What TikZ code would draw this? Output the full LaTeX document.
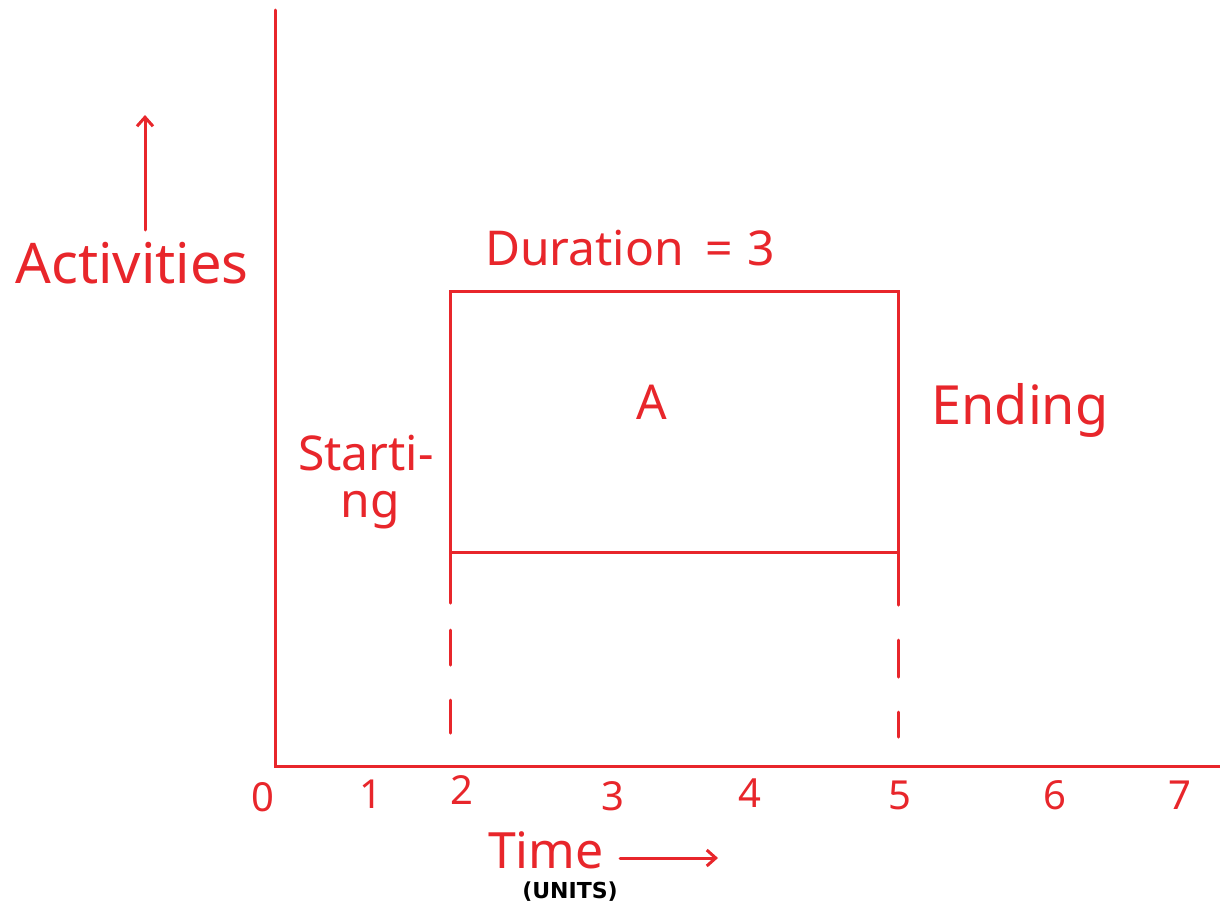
\documentclass[tikz,border=0pt]{standalone}
\usepackage{fontspec}
\setmainfont{Noto Sans}
\newfontfamily\unitsfont{DejaVu Sans}
\usetikzlibrary{arrows.meta}
\definecolor{pen}{HTML}{E8262B}
\tikzset{
  ink/.style={draw=pen, line width=3pt, line cap=round},
  lbl/.style={text=pen, inner sep=0pt, font=\fontsize{#1}{#1}\selectfont},
  tick/.style={text=pen, inner sep=0pt, font=\fontsize{40}{40}\selectfont},
  barb/.style={-{Straight Barb[length=9pt,width=16pt,line width=3pt]}}
}
\begin{document}
\begin{tikzpicture}[x=1pt,y=-1pt]
\useasboundingbox[fill=white] (0,0) rectangle (1220,905);
% axes
\coordinate (ytop) at (275,10);
\coordinate (orig) at (275,766);
\coordinate (xend) at (1220,766);
\draw[ink] (ytop) -- (orig) -- (xend);
% activities arrow and label
\node[lbl=56] (act) at (132,263) {Activities};
\coordinate (actup) at (145,115);
\draw[ink,barb] (145,230) -- (actup);
% box
\node[ink, minimum width=448pt, minimum height=261pt, inner sep=0pt, outer sep=0pt] (A) at (674,421.5) {};
\node[lbl=48] (Alab) at (652,402) {A};
\node[lbl=48] (dur) at (630,248) {Duration\hspace{22pt}=\hspace{14pt}3};
\node[lbl=54] (end) at (1020,410) {Ending};
\node[lbl=48] (start) at (366,453) {Starti-};
\node[lbl=48] (ng) at (370,510) {ng};
% drop lines
\coordinate (l0) at (674,733);
\coordinate (r0) at (674,737);
\draw[ink, dash pattern=on 51pt off 27pt on 35pt off 35pt on 33pt] (A.south west) -- (A.south west |- l0);
\draw[ink, dash pattern=on 53pt off 35pt on 37pt off 35pt on 25pt] (A.south east) -- (A.south east |- r0);
% ticks
\node[tick] (t0) at (263,797) {0};
\node[tick] (t1) at (371,794) {1};
\node[tick] (t2) at (462,790) {2};
\node[tick] (t3) at (613,796) {3};
\node[tick] (t4) at (750,793) {4};
\node[tick] (t5) at (900,795) {5};
\node[tick] (t6) at (1055,795) {6};
\node[tick] (t7) at (1180,795) {7};
% time label
\node[lbl=50] (time) at (546,850) {Time};
\coordinate (tarrow) at (718,858);
\draw[ink,barb] (620,858) -- (tarrow);
\node[inner sep=0pt, font=\fontsize{22}{22}\selectfont\unitsfont\bfseries] (units) at (570,892) {(UNITS)};
\end{tikzpicture}
\end{document}
